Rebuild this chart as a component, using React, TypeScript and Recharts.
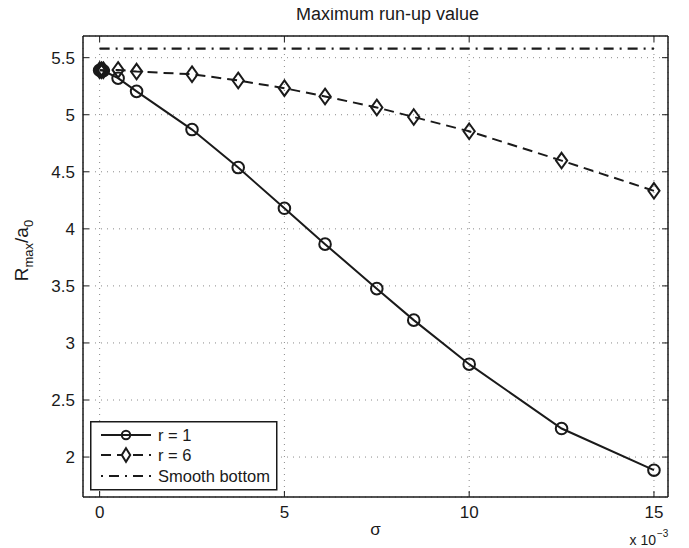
import React from "react";
import { LineChart, Line, XAxis, YAxis, CartesianGrid, Legend, Label } from "recharts";

// sigma values (x 10^-3)
const sigma = [0, 0.05, 0.1, 0.5, 1, 2.5, 3.75, 5, 6.1, 7.5, 8.5, 10, 12.5, 15];
const r1Values = [5.39, 5.39, 5.385, 5.32, 5.205, 4.87, 4.537, 4.18, 3.866, 3.476, 3.2, 2.814, 2.25, 1.885];
const r6Values = [5.39, 5.39, 5.39, 5.393, 5.378, 5.355, 5.3, 5.233, 5.16, 5.064, 4.98, 4.855, 4.598, 4.333];
const smoothSigma = [0, 15];
const smoothValues = [5.58, 5.58];

const xTicks = [0, 5, 10, 15];
const yTicks = [2, 2.5, 3, 3.5, 4, 4.5, 5, 5.5];

const seriesNames = ["r = 1", "r = 6", "Smooth bottom"];
const titleText = "Maximum run-up value";

const r1Data = sigma.map((s, i) => ({ s, v: r1Values[i] }));
const r6Data = sigma.map((s, i) => ({ s, v: r6Values[i] }));
const smoothData = smoothSigma.map((s, i) => ({ s, v: smoothValues[i] }));

const FONT = "'Liberation Sans', Arial, Helvetica, sans-serif";
const INK = "#1a1a1a";
const TICK_LEN = 6;
const X_DOMAIN: [number, number] = [-0.45, 15.38];
const Y_DOMAIN: [number, number] = [1.65, 5.69];

const BottomTick = (props: any) => {
  const { x, y, payload } = props;
  return (
    <g>
      <line x1={x} x2={x} y1={y} y2={y - TICK_LEN} stroke={INK} strokeWidth={1} />
      <text x={x} y={y + 21} textAnchor="middle" fontSize={17} fontFamily={FONT} fill={INK}>
        {payload.value}
      </text>
    </g>
  );
};

const TopTick = (props: any) => {
  const { x, y } = props;
  return <line x1={x} x2={x} y1={y} y2={y + TICK_LEN} stroke={INK} strokeWidth={1} />;
};

const LeftTick = (props: any) => {
  const { x, y, payload } = props;
  return (
    <g>
      <line x1={x} x2={x + TICK_LEN} y1={y} y2={y} stroke={INK} strokeWidth={1} />
      <text x={x - 8} y={y} dy="0.36em" textAnchor="end" fontSize={17} fontFamily={FONT} fill={INK}>
        {payload.value}
      </text>
    </g>
  );
};

const RightTick = (props: any) => {
  const { x, y } = props;
  return <line x1={x} x2={x - TICK_LEN} y1={y} y2={y} stroke={INK} strokeWidth={1} />;
};

const CircleDot = (props: any) => {
  const { cx, cy, key } = props;
  if (cx == null || cy == null) return <g key={key} />;
  return <circle key={key} cx={cx} cy={cy} r={5.8} fill="none" stroke={INK} strokeWidth={2} />;
};

const diamondPath = (cx: number, cy: number, hw: number, hh: number) =>
  `M${cx},${cy - hh} L${cx + hw},${cy} L${cx},${cy + hh} L${cx - hw},${cy} Z`;

const DiamondDot = (props: any) => {
  const { cx, cy, key } = props;
  if (cx == null || cy == null) return <g key={key} />;
  return <path key={key} d={diamondPath(cx, cy, 5.6, 7.8)} fill="none" stroke={INK} strokeWidth={2} />;
};

const LegendBox = () => (
  <svg width={188} height={70} style={{ display: "block" }}>
    <rect x={0.75} y={0.75} width={186} height={68} fill="#fff" stroke={INK} strokeWidth={1.5} />
    <line x1={11} x2={61} y1={14} y2={14} stroke={INK} strokeWidth={2} />
    <circle cx={36} cy={14} r={4.2} fill="none" stroke={INK} strokeWidth={2} />
    <text x={68} y={14} dy="0.36em" fontSize={16.5} fontFamily={FONT} fill={INK}>{seriesNames[0]}</text>
    <line x1={11} x2={61} y1={34} y2={34} stroke={INK} strokeWidth={2} strokeDasharray="10 6" />
    <path d={diamondPath(36, 34, 4.2, 6.8)} fill="#fff" stroke={INK} strokeWidth={2} />
    <text x={68} y={34} dy="0.36em" fontSize={16.5} fontFamily={FONT} fill={INK}>{seriesNames[1]}</text>
    <line x1={11} x2={61} y1={55} y2={55} stroke={INK} strokeWidth={2.2} strokeDasharray="2 6 10 6" />
    <text x={68} y={55} dy="0.36em" fontSize={16.5} fontFamily={FONT} fill={INK}>{seriesNames[2]}</text>
  </svg>
);

const TitleLabel = (props: any) => {
  const { viewBox } = props;
  const cx = viewBox.x + viewBox.width / 2 + 12;
  return (
    <text x={cx} y={viewBox.y - 15} textAnchor="middle" fontSize={18} fontFamily={FONT} fill={INK}>
      {titleText}
    </text>
  );
};

const XLabel = (props: any) => {
  const { viewBox } = props;
  const cx = viewBox.x + viewBox.width / 2;
  const right = viewBox.x + viewBox.width;
  return (
    <g>
      <text x={cx} y={viewBox.y + 38} textAnchor="middle" fontSize={17} fontFamily={FONT} fill={INK}>
        σ
      </text>
      <text x={right - 12} y={viewBox.y + 48} textAnchor="end" fontSize={14} fontFamily={FONT} fill={INK}>
        x 10
      </text>
      <text x={right - 11} y={viewBox.y + 40} fontSize={10} fontFamily={FONT} fill={INK}>
        −3
      </text>
    </g>
  );
};

const YLabel = (props: any) => {
  const { viewBox } = props;
  const cy = viewBox.y + viewBox.height / 2 - 16;
  const x = 28;
  return (
    <text
      x={x}
      y={cy}
      transform={`rotate(-90, ${x}, ${cy})`}
      textAnchor="middle"
      fontSize={19}
      fontFamily={FONT}
      fill={INK}
    >
      R
      <tspan fontSize={13} dy={5}>max</tspan>
      <tspan dy={-5}>/a</tspan>
      <tspan fontSize={13} dy={5}>0</tspan>
    </text>
  );
};

export default function App() {
  return (
    <div style={{ position: "relative", top: -8, left: -8, width: 689, height: 548, background: "#fff" }}>
      <LineChart width={689} height={548} margin={{ top: 35, right: 20, bottom: 21, left: 38 }}>
        <CartesianGrid stroke="#8a8a8a" strokeDasharray="1 5" strokeWidth={1} />
        <XAxis
          dataKey="s"
          type="number"
          domain={X_DOMAIN}
          ticks={xTicks}
          interval={0}
          allowDataOverflow
          height={30}
          tickSize={0}
          tickMargin={0}
          tick={<BottomTick />}
          axisLine={{ stroke: INK, strokeWidth: 1.5 }}
        >
          <Label content={<XLabel />} />
        </XAxis>
        <XAxis
          xAxisId="top"
          orientation="top"
          dataKey="s"
          type="number"
          domain={X_DOMAIN}
          ticks={xTicks}
          interval={0}
          allowDataOverflow
          height={1}
          tickSize={0}
          tickMargin={0}
          tick={<TopTick />}
          axisLine={{ stroke: INK, strokeWidth: 1.5 }}
        >
          <Label content={<TitleLabel />} />
        </XAxis>
        <YAxis
          type="number"
          domain={Y_DOMAIN}
          ticks={yTicks}
          interval={0}
          allowDataOverflow
          width={45}
          tickSize={0}
          tickMargin={0}
          tick={<LeftTick />}
          axisLine={{ stroke: INK, strokeWidth: 1.5 }}
        >
          <Label content={<YLabel />} />
        </YAxis>
        <YAxis
          yAxisId="right"
          orientation="right"
          type="number"
          domain={Y_DOMAIN}
          ticks={yTicks}
          interval={0}
          allowDataOverflow
          width={1}
          tickSize={0}
          tickMargin={0}
          tick={<RightTick />}
          axisLine={{ stroke: INK, strokeWidth: 1.5 }}
        />
        <Line
          data={smoothData}
          dataKey="v"
          name={seriesNames[2]}
          stroke={INK}
          strokeWidth={2.2}
          strokeDasharray="10 6 2 6"
          dot={false}
          isAnimationActive={false}
        />
        <Line
          data={r6Data}
          dataKey="v"
          name={seriesNames[1]}
          stroke={INK}
          strokeWidth={2}
          strokeDasharray="10 6"
          dot={DiamondDot}
          isAnimationActive={false}
        />
        <Line
          data={r1Data}
          dataKey="v"
          name={seriesNames[0]}
          stroke={INK}
          strokeWidth={2}
          dot={CircleDot}
          isAnimationActive={false}
        />
        <Legend
          layout="vertical"
          align="center"
          verticalAlign="middle"
          content={<LegendBox />}
          wrapperStyle={{ left: 90, top: 421, width: 188, height: 70 }}
        />
      </LineChart>
    </div>
  );
}
